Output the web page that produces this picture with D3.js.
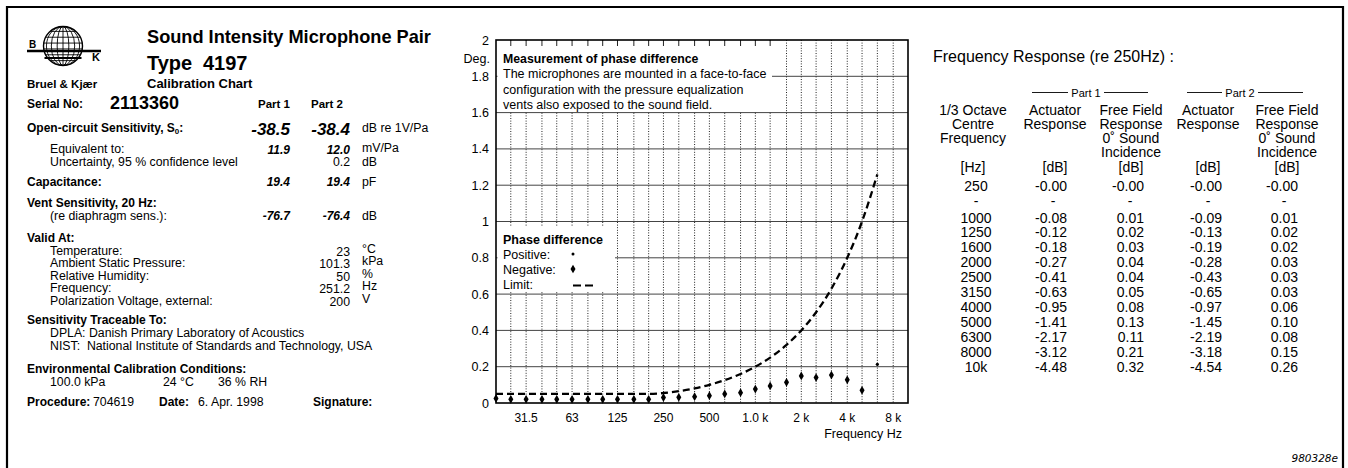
<!DOCTYPE html>
<html><head><meta charset="utf-8">
<script src="https://cdn.jsdelivr.net/npm/d3@7/dist/d3.min.js"></script>
<style>
body{margin:0;background:#fff}
svg{display:block}
text{font-family:"Liberation Sans",Arial,Helvetica,sans-serif;fill:#000}
</style>
</head><body>
<svg id="c" width="1348" height="468"></svg>
<script>
// ---------- DATA ----------
const phaseFreqs = [20,25,31.5,40,50,63,80,100,125,160,200,250,315,400,500,630,800,1000,1250,1600,2000,2500,3150,4000,5000,6300];
const phaseValues = [0.025,0.02,0.02,0.02,0.02,0.02,0.02,0.02,0.02,0.02,0.02,0.03,0.031,0.035,0.04,0.05,0.057,0.077,0.094,0.114,0.149,0.14,0.154,0.128,0.07,0.213];
const phaseSigns = ["-","-","-","-","-","-","-","-","-","-","-","-","-","-","-","-","-","-","-","-","-","-","-","-","-","+"];
const limitValues = [0.05,0.05,0.05,0.05,0.05,0.05,0.05,0.05,0.05,0.05,0.05,0.055,0.065,0.08,0.10,0.126,0.16,0.20,0.25,0.32,0.40,0.50,0.63,0.80,1.00,1.26];
const gridFreqs = [25,31.5,40,50,63,80,100,125,160,200,250,315,400,500,630,800,1000,1250,1600,2000,2500,3150,4000,5000,6300,8000];
const xTickFreqs = [31.5,63,125,250,500,1000,2000,4000,8000];
const xTickLabels = ["31.5","63","125","250","500","1.0 k","2 k","4 k","8 k"];
const yTickValues = [0,0.2,0.4,0.6,0.8,1,1.2,1.4,1.6,1.8,2];

const tableFreqs = ["250","-","1000","1250","1600","2000","2500","3150","4000","5000","6300","8000","10k"];
const actuator1 = ["-0.00","-","-0.08","-0.12","-0.18","-0.27","-0.41","-0.63","-0.95","-1.41","-2.17","-3.12","-4.48"];
const freeField1 = ["-0.00","-","0.01","0.02","0.03","0.04","0.04","0.05","0.08","0.13","0.11","0.21","0.32"];
const actuator2 = ["-0.00","-","-0.09","-0.13","-0.19","-0.28","-0.43","-0.65","-0.97","-1.45","-2.19","-3.18","-4.54"];
const freeField2 = ["-0.00","-","0.01","0.02","0.02","0.03","0.03","0.03","0.06","0.10","0.08","0.15","0.26"];

const sensitivity = ["-38.5","-38.4"];
const equivalent = ["11.9","12.0"];
const capacitance = ["19.4","19.4"];
const ventSens = ["-76.7","-76.4"];
const validLabels = ["Temperature:","Ambient Static Pressure:","Relative Humidity:","Frequency:","Polarization Voltage, external:"];
const validValues = ["23","101.3","50","251.2","200"];
const validUnits = ["°C","kPa","%","Hz","V"];

// ---------- HELPERS ----------
const svg = d3.select("#c");
const NS = 12.3, BS = 12;
function T(x,y,s,o={}){
  const t = svg.append("text").attr("x",x).attr("y",y).text(s)
    .style("font-size",(o.size||NS)+"px");
  if(o.bold) t.style("font-weight","bold");
  if(o.italic) t.style("font-style","italic");
  if(o.anchor) t.attr("text-anchor",o.anchor);
  return t;
}

// ---------- FRAME ----------
svg.append("path").attr("d","M7,468 V7 H1343 V468").attr("fill","none").attr("stroke","#000").attr("stroke-width",2.2);

// ---------- LOGO ----------
const lg = svg.append("g").attr("fill","none").attr("stroke","#000");
const gcx=63, gcy=46, gr=19.5;
lg.append("circle").attr("cx",gcx).attr("cy",gcy).attr("r",gr).attr("stroke-width",1.4);
[0.3,0.6,0.85].forEach(k=>lg.append("ellipse").attr("cx",gcx).attr("cy",gcy).attr("rx",gr*k).attr("ry",gr).attr("stroke-width",0.9));
lg.append("line").attr("x1",gcx).attr("x2",gcx).attr("y1",gcy-gr).attr("y2",gcy+gr).attr("stroke-width",0.9);
[-0.75,-0.45,-0.15,0.15,0.45,0.75].forEach(k=>{const dy=gr*k, hw=Math.sqrt(gr*gr-dy*dy);
  lg.append("line").attr("x1",gcx-hw).attr("x2",gcx+hw).attr("y1",gcy+dy).attr("y2",gcy+dy).attr("stroke-width",0.9);});
lg.append("line").attr("x1",27).attr("x2",101).attr("y1",51).attr("y2",51).attr("stroke-width",2.6);
lg.append("line").attr("x1",gcx-gr+1).attr("x2",gcx+gr-1).attr("y1",58).attr("y2",58).attr("stroke-width",2.2);
T(29,48,"B",{size:10,bold:true});
T(92,61,"K",{size:11,bold:true});

// ---------- LEFT PANEL ----------
T(27,88,"Bruel & Kjær",{size:11.5,bold:true});
T(147,43,"Sound Intensity Microphone Pair",{size:18.2,bold:true});
T(147,70,"Type",{size:20,bold:true});
T(203,70,"4197",{size:20,bold:true});
T(147,88,"Calibration Chart",{size:13,bold:true});

const cP1=290, cP2=350, cU=362, xL=27, xI=50;
T(xL,108,"Serial No:",{size:BS,bold:true});
T(110,109,"2113360",{size:18,bold:true});
T(cP1,108,"Part 1",{size:11.5,bold:true,anchor:"end"});
T(343,108,"Part 2",{size:11.5,bold:true,anchor:"end"});

const os = T(xL,132,"Open-circuit Sensitivity, S",{size:BS,bold:true});
os.append("tspan").text("0").attr("dy",2).style("font-size","8px");
os.append("tspan").text(":").attr("dy",-2);
T(cP1,134.5,sensitivity[0],{size:17,bold:true,italic:true,anchor:"end"});
T(cP2,134.5,sensitivity[1],{size:17,bold:true,italic:true,anchor:"end"});
T(cU,132,"dB re 1V/Pa");

T(xI,153,"Equivalent to:");
T(cP1,154,equivalent[0],{size:12,bold:true,italic:true,anchor:"end"});
T(cP2,154,equivalent[1],{size:12,bold:true,italic:true,anchor:"end"});
T(cU,152,"mV/Pa");
T(xI,166,"Uncertainty, 95 % confidence level");
T(cP2,166,"0.2",{anchor:"end"});
T(cU,166,"dB");

T(xL,186,"Capacitance:",{size:BS,bold:true});
T(cP1,186,capacitance[0],{size:12,bold:true,italic:true,anchor:"end"});
T(cP2,186,capacitance[1],{size:12,bold:true,italic:true,anchor:"end"});
T(cU,186,"pF");

T(xL,207,"Vent Sensitivity, 20 Hz:",{size:BS,bold:true});
T(xI,220,"(re diaphragm sens.):");
T(cP1,220,ventSens[0],{size:12,bold:true,italic:true,anchor:"end"});
T(cP2,220,ventSens[1],{size:12,bold:true,italic:true,anchor:"end"});
T(cU,220,"dB");

T(xL,242,"Valid At:",{size:BS,bold:true});
validLabels.forEach((s,i)=>{
  const y = 255 + i*12.4;
  T(xI,y,s);
  T(cP2,y+1,validValues[i],{anchor:"end"});
  T(cU,y-2,validUnits[i]);
});

T(xL,324,"Sensitivity Traceable To:",{size:BS,bold:true});
T(xI,337,"DPLA: Danish Primary Laboratory of Acoustics");
T(xI,350,"NIST:\u00a0 National Institute of Standards and Technology, USA");
T(xL,373,"Environmental Calibration Conditions:",{size:BS,bold:true});
T(xI,386,"100.0 kPa");
T(163,386,"24 °C");
T(218,386,"36 % RH");
T(xL,406,"Procedure:",{size:BS,bold:true});
T(93,406,"704619");
T(159,406,"Date:",{size:BS,bold:true});
T(198,406,"6. Apr. 1998");
T(313,406,"Signature:",{size:BS,bold:true});

// ---------- CHART ----------
const X0=496, X1=908, Y0=403, Y1=40;
const x = d3.scaleLog().domain([20,10000]).range([X0,X1]);
const y = d3.scaleLinear().domain([0,2]).range([Y0,Y1]);
const ch = svg.append("g");

ch.append("g").selectAll("line").data(yTickValues.filter(v=>v>0&&v<2)).join("line")
  .attr("x1",X0).attr("x2",X1).attr("y1",d=>y(d)).attr("y2",d=>y(d))
  .attr("stroke","#444").attr("stroke-width",1);
ch.append("g").selectAll("line").data(gridFreqs).join("line")
  .attr("x1",d=>x(d)).attr("x2",d=>x(d)).attr("y1",Y1).attr("y2",Y0)
  .attr("stroke","#222").attr("stroke-width",1).attr("stroke-dasharray","1,1.6");

ch.append("rect").attr("x",X0+1.5).attr("y",Y1+1).attr("width",772-X0-1.5).attr("height",112-Y1-1).attr("fill","#fff");
ch.append("g").selectAll("line").data(gridFreqs.filter(f=>x(f)<772)).join("line")
  .attr("x1",d=>x(d)).attr("x2",d=>x(d)).attr("y1",Y1).attr("y2",Y1+6)
  .attr("stroke","#222").attr("stroke-width",1);
ch.append("rect").attr("x",X0+1.5).attr("y",226).attr("width",615-X0-1.5).attr("height",292-226).attr("fill","#fff");

T(503,62.5,"Measurement of phase difference",{size:12.3,bold:true});
T(503,78,"The microphones are mounted in a face-to-face",{size:12.5});
T(503,93.5,"configuration with the pressure equalization",{size:12.5});
T(503,109,"vents also exposed to the sound field.",{size:12.5});

T(503,243.5,"Phase difference",{size:12.5,bold:true});
T(503,258.5,"Positive:",{size:12.5});
T(503,274,"Negative:",{size:12.5});
T(503,289,"Limit:",{size:12.5});
ch.append("circle").attr("cx",573).attr("cy",254).attr("r",1.5).attr("fill","#000");
ch.append("path").attr("d",d3.symbol(d3.symbolDiamond,22)()).attr("transform","translate(573,269)").attr("fill","#000");
ch.append("line").attr("x1",573).attr("x2",593).attr("y1",285.5).attr("y2",285.5)
  .attr("stroke","#000").attr("stroke-width",2).attr("stroke-dasharray","8,4");

ch.append("rect").attr("x",X0).attr("y",Y1).attr("width",X1-X0).attr("height",Y0-Y1)
  .attr("fill","none").attr("stroke","#000").attr("stroke-width",1.6);

ch.append("g").selectAll("text").data(yTickValues).join("text")
  .attr("x",489).attr("y",d=>y(d)+4.5).attr("text-anchor","end").style("font-size","12.5px")
  .text(d=>d3.format("~g")(d));
T(490,62.5,"Deg.",{size:12.5,anchor:"end"});
ch.append("g").selectAll("text").data(xTickFreqs).join("text")
  .attr("x",d=>x(d)).attr("y",421.5).attr("text-anchor","middle").style("font-size","12px")
  .text((d,i)=>xTickLabels[i]);
T(902,437.5,"Frequency Hz",{size:12.5,anchor:"end"});

const limData = phaseFreqs.map((f,i)=>({f,v:limitValues[i]}));
ch.append("path").datum(limData)
  .attr("d",d3.line().x(d=>x(d.f)).y(d=>y(d.v)).curve(d3.curveMonotoneX))
  .attr("fill","none").attr("stroke","#000").attr("stroke-width",2.3).attr("stroke-dasharray","7,4");

const pts = phaseFreqs.map((f,i)=>({f,v:phaseValues[i],s:phaseSigns[i]}));
ch.append("g").selectAll("path").data(pts.filter(d=>d.s==="-")).join("path")
  .attr("d",d3.symbol(d3.symbolDiamond,22)())
  .attr("transform",d=>`translate(${x(d.f)},${y(d.v)})`).attr("fill","#000");
ch.append("g").selectAll("circle").data(pts.filter(d=>d.s==="+")).join("circle")
  .attr("cx",d=>x(d.f)).attr("cy",d=>y(d.v)).attr("r",1.6).attr("fill","#000");

// ---------- TABLE ----------
const TS = 14;
T(933,62,"Frequency Response (re 250Hz) :",{size:16});
[[1086,1032,1068,1104,1148,"Part 1"],[1240,1187,1222,1258,1303,"Part 2"]].forEach(p=>{
  T(p[0],96.5,p[5],{size:11,anchor:"middle"});
  svg.append("line").attr("x1",p[1]).attr("x2",p[2]).attr("y1",92.5).attr("y2",92.5).attr("stroke","#000").attr("stroke-width",0.9);
  svg.append("line").attr("x1",p[3]).attr("x2",p[4]).attr("y1",92.5).attr("y2",92.5).attr("stroke","#000").attr("stroke-width",0.9);
});
const hdr = [
  [973,["1/3 Octave","Centre","Frequency"],"[Hz]"],
  [1055,["Actuator","Response"],"[dB]"],
  [1131,["Free Field","Response","0˚ Sound","Incidence"],"[dB]"],
  [1208,["Actuator","Response"],"[dB]"],
  [1287,["Free Field","Response","0˚ Sound","Incidence"],"[dB]"]
];
hdr.forEach(h=>{
  h[1].forEach((s,i)=>T(h[0],114.5+i*14,s,{size:TS,anchor:"middle"}));
  T(h[0],171.5,h[2],{size:TS,anchor:"middle"});
});
const rowY = i => i===0 ? 191 : (i===1 ? 206 : 222.5 + (i-2)*14.95);
tableFreqs.forEach((s,i)=>T(976,rowY(i),s,{size:TS,anchor:"middle"}));
[[actuator1,1067],[freeField1,1144],[actuator2,1222],[freeField2,1298]].forEach(c=>{
  c[0].forEach((s,i)=>{
    if(s==="-") T(c[1]-14,rowY(i),s,{size:TS,anchor:"middle"});
    else T(c[1],rowY(i),s,{size:TS,anchor:"end"});
  });
});

T(1338,462,"980328e",{italic:true,anchor:"end"}).style("font-family","'DejaVu Sans',sans-serif").style("font-size","10.5px");
</script>
</body></html>
